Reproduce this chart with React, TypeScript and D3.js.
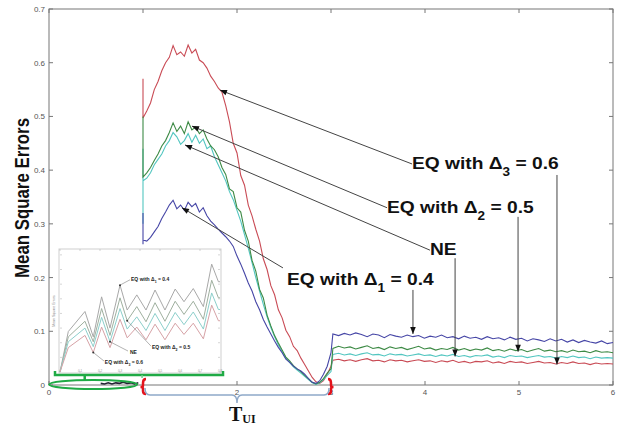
import React from 'react';
import * as d3 from 'd3';

const W = 621;
const H = 428;

// axis ticks
const xTicks = [0, 1, 2, 3, 4, 5, 6];
const xTickLabels = ['0', '', '2', '3', '4', '5', '6'];
const yTicks = [0, 0.1, 0.2, 0.3, 0.4, 0.5, 0.6, 0.7];
const yTickLabels = ['0', '0.1', '0.2', '0.3', '0.4', '0.5', '0.6', '0.7'];

// sampling grids (x positions of the samples)
const humpX = d3.range(51).map((i) => 1 + i * 0.04);
const tailX = d3.range(50).map((i) => 3.02 + i * (2.98 / 49));

// initial vertical drops at t = 1
const redSpike: [number, number][] = [[1, 0.57], [1, 0.497]];
const greenSpike: [number, number][] = [[1, 0.5], [1, 0.387]];
const cyanSpike: [number, number][] = [[1, 0.44], [1, 0.3], [1, 0.38]];
const blueSpike: [number, number][] = [[1, 0.32], [1, 0.262]];

// EQ with Δ3 = 0.6
const redHump = [
  0.497, 0.51, 0.525, 0.55, 0.565, 0.585, 0.6, 0.61, 0.632, 0.615,
  0.62, 0.612, 0.633, 0.618, 0.625, 0.605, 0.6, 0.59, 0.575, 0.565,
  0.553, 0.545, 0.52, 0.49, 0.45, 0.432, 0.39, 0.372, 0.335, 0.315,
  0.29, 0.268, 0.235, 0.215, 0.185, 0.168, 0.14, 0.125, 0.102, 0.09,
  0.072, 0.064, 0.05, 0.038, 0.026, 0.014, 0.006, 0.003, 0.008, 0.02,
  0.035,
];
// EQ with Δ2 = 0.5
const greenHump = [
  0.387, 0.395, 0.405, 0.418, 0.43, 0.445, 0.455, 0.47, 0.488, 0.472,
  0.482, 0.468, 0.49, 0.475, 0.48, 0.468, 0.475, 0.458, 0.445, 0.438,
  0.425, 0.405, 0.392, 0.365, 0.36, 0.33, 0.322, 0.288, 0.268, 0.232,
  0.212, 0.178, 0.162, 0.13, 0.11, 0.092, 0.078, 0.065, 0.052, 0.045,
  0.036, 0.03, 0.025, 0.018, 0.012, 0.005, 0.002, 0.005, 0.012, 0.022,
  0.03,
];
// NE
const cyanHump = [
  0.38, 0.385, 0.395, 0.41, 0.42, 0.43, 0.445, 0.455, 0.47, 0.462,
  0.448, 0.455, 0.468, 0.452, 0.465, 0.45, 0.458, 0.44, 0.445, 0.425,
  0.41, 0.395, 0.38, 0.36, 0.345, 0.325, 0.305, 0.28, 0.255, 0.228,
  0.2, 0.175, 0.15, 0.127, 0.107, 0.09, 0.075, 0.062, 0.05, 0.042,
  0.034, 0.028, 0.022, 0.016, 0.01, 0.004, 0.001, 0.004, 0.01, 0.018,
  0.025,
];
// EQ with Δ1 = 0.4
const blueHump = [
  0.27, 0.268, 0.275, 0.285, 0.295, 0.31, 0.322, 0.335, 0.344, 0.328,
  0.335, 0.325, 0.34, 0.332, 0.338, 0.322, 0.33, 0.315, 0.305, 0.298,
  0.29, 0.283, 0.276, 0.268, 0.258, 0.24, 0.225, 0.208, 0.19, 0.175,
  0.155, 0.14, 0.122, 0.108, 0.095, 0.082, 0.07, 0.06, 0.048, 0.042,
  0.035, 0.03, 0.026, 0.02, 0.012, 0.005, 0.003, 0.008, 0.02, 0.035,
  0.06,
];

const blueTail = [
  0.095, 0.092, 0.096, 0.093, 0.097, 0.094, 0.09, 0.095, 0.093, 0.088,
  0.094, 0.091, 0.089, 0.093, 0.09, 0.092, 0.087, 0.091, 0.089, 0.093,
  0.088, 0.09, 0.086, 0.091, 0.087, 0.089, 0.085, 0.09, 0.086, 0.088,
  0.084, 0.089, 0.085, 0.087, 0.082, 0.086, 0.084, 0.081, 0.086, 0.082,
  0.085, 0.08, 0.084, 0.079, 0.083, 0.08, 0.078, 0.082, 0.077, 0.079,
];
const greenTail = [
  0.068, 0.072, 0.069, 0.071, 0.067, 0.07, 0.073, 0.068, 0.07, 0.066,
  0.071, 0.068, 0.07, 0.066, 0.069, 0.072, 0.067, 0.069, 0.065, 0.068,
  0.066, 0.07, 0.065, 0.068, 0.064, 0.067, 0.065, 0.069, 0.064, 0.066,
  0.063, 0.067, 0.064, 0.066, 0.062, 0.065, 0.068, 0.063, 0.065, 0.062,
  0.064, 0.061, 0.065, 0.062, 0.063, 0.06, 0.064, 0.061, 0.062, 0.06,
];
const cyanTail = [
  0.057, 0.059, 0.056, 0.058, 0.055, 0.058, 0.06, 0.056, 0.057, 0.054,
  0.058, 0.056, 0.057, 0.054, 0.056, 0.058, 0.055, 0.056, 0.053, 0.056,
  0.054, 0.057, 0.053, 0.055, 0.052, 0.055, 0.054, 0.056, 0.052, 0.054,
  0.051, 0.055, 0.053, 0.054, 0.051, 0.053, 0.055, 0.052, 0.053, 0.05,
  0.053, 0.051, 0.054, 0.051, 0.052, 0.049, 0.052, 0.05, 0.051, 0.05,
];
const redTail = [
  0.046, 0.048, 0.045, 0.047, 0.044, 0.047, 0.049, 0.045, 0.046, 0.043,
  0.047, 0.045, 0.046, 0.043, 0.045, 0.047, 0.044, 0.045, 0.042, 0.045,
  0.043, 0.046, 0.042, 0.044, 0.041, 0.044, 0.043, 0.045, 0.041, 0.043,
  0.04, 0.044, 0.042, 0.043, 0.04, 0.042, 0.044, 0.041, 0.042, 0.039,
  0.042, 0.04, 0.043, 0.04, 0.041, 0.038, 0.041, 0.039, 0.04, 0.039,
];

// tiny values before t = 1 (inside the green ellipse)
const earlyX = [0.55, 0.59, 0.63, 0.67, 0.71, 0.75, 0.79, 0.83, 0.87, 0.91, 0.95];
const earlyVals = [0.003, 0.002, 0.004, 0.002, 0.004, 0.003, 0.005, 0.003, 0.004, 0.002, 0.004];

// inset (zoom of the interval inside the ellipse)
const insetU = [0, 0.052, 0.156, 0.208, 0.26, 0.3125, 0.375, 0.42, 0.48, 0.5375, 0.594, 0.656, 0.72, 0.775, 0.833, 0.896, 0.948, 0.99, 1.0];
const insetD1 = [0, 0.083, 0.124, 0.072, 0.154, 0.09, 0.178, 0.127, 0.158, 0.127, 0.168, 0.127, 0.17, 0.144, 0.171, 0.134, 0.221, 0.185, 0.185];
const insetD2 = [0, 0.072, 0.104, 0.062, 0.13, 0.075, 0.152, 0.105, 0.134, 0.103, 0.142, 0.104, 0.145, 0.118, 0.145, 0.108, 0.188, 0.152, 0.152];
const insetNE = [0, 0.062, 0.09, 0.052, 0.112, 0.062, 0.13, 0.088, 0.113, 0.085, 0.12, 0.085, 0.122, 0.097, 0.123, 0.088, 0.162, 0.128, 0.128];
const insetD3 = [0, 0.05, 0.075, 0.04, 0.092, 0.05, 0.108, 0.07, 0.092, 0.066, 0.098, 0.066, 0.1, 0.077, 0.1, 0.068, 0.137, 0.105, 0.105];
const insetXTicks = [0, 0.125, 0.25, 0.375, 0.5, 0.625, 0.75, 0.875, 1];
const insetXLabels = ['0', '0.1', '0.2', '0.3', '0.4', '0.5', '0.6', '0.7', '0.8'];
const insetYTicks = [0.03, 0.06, 0.09, 0.12, 0.15, 0.18, 0.21, 0.24];

const RED = '#c94b55';
const GREEN = '#3d8a45';
const CYAN = '#52c6c0';
const BLUE = '#4646a6';

type P = [number, number];

const build = (spike: P[], hump: number[], tail: number[]): P[] => [
  ...spike,
  ...humpX.map((t, i) => [t, hump[i]] as P),
  ...tailX.map((t, i) => [t, tail[i]] as P),
];

const series = [
  { name: 'EQ Δ3=0.6', color: RED, pts: build(redSpike, redHump, redTail) },
  { name: 'NE', color: CYAN, pts: build(cyanSpike, cyanHump, cyanTail) },
  { name: 'EQ Δ2=0.5', color: GREEN, pts: build(greenSpike, greenHump, greenTail) },
  { name: 'EQ Δ1=0.4', color: BLUE, pts: build(blueSpike, blueHump, blueTail) },
];

const annotations = [
  { pre: 'EQ with Δ', sub: '3', post: ' = 0.6', text: [3.862, 0.402], from: [3.862, 0.4115], tip: [1.819, 0.549], vx: 5.404, vFrom: 0.391, vTip: 0.038 },
  { pre: 'EQ with Δ', sub: '2', post: ' = 0.5', text: [3.596, 0.32], from: [3.596, 0.33], tip: [1.521, 0.482], vx: 4.99, vFrom: 0.313, vTip: 0.062 },
  { pre: 'NE', sub: '', post: '', text: [4.053, 0.242], from: [4.053, 0.251], tip: [1.447, 0.447], vx: 4.32, vFrom: 0.236, vTip: 0.053 },
  { pre: 'EQ with Δ', sub: '1', post: ' = 0.4', text: [2.532, 0.186], from: [2.489, 0.218], tip: [1.415, 0.33], vx: 3.872, vFrom: 0.177, vTip: 0.095 },
];

const insetAnn = [
  { pre: 'EQ with Δ', sub: '1', post: ' = 0.4', dot: [0.375, 0.178], end: [0.4375, 0.189], text: [0.444, 0.186] },
  { pre: 'EQ with Δ', sub: '2', post: ' = 0.5', dot: [0.42, 0.105], end: [0.569, 0.053], text: [0.575, 0.047] },
  { pre: 'NE', sub: '', post: '', dot: [0.3125, 0.062], end: [0.425, 0.043], text: [0.4375, 0.037] },
  { pre: 'EQ with Δ', sub: '3', post: ' = 0.6', dot: [0.208, 0.04], end: [0.275, 0.0225], text: [0.28, 0.016] },
];

export default function App() {
  const x = d3.scaleLinear().domain([0, 6]).range([49, 613]);
  const y = d3.scaleLinear().domain([0, 0.7]).range([385, 9]);
  const line = d3.line<P>().x((d) => x(d[0])).y((d) => y(d[1]));

  const ix = d3.scaleLinear().domain([0, 1]).range([60, 220]);
  const iy = d3.scaleLinear().domain([0, 0.25]).range([372, 250]);
  const iline = d3.line<P>().x((d) => ix(d[0])).y((d) => iy(d[1]));

  const [x0, x1] = x.range();
  const [y0, y1] = y.range();
  const font = 'Liberation Sans, Arial, sans-serif';
  const early: P[] = earlyX.map((t, i) => [t, earlyVals[i]]);

  const insetLines = [
    { vals: insetD1, color: '#a8a8a8' },
    { vals: insetD2, color: '#9fb09f' },
    { vals: insetNE, color: '#8ccfcb' },
    { vals: insetD3, color: '#d6a2a6' },
  ];

  const bx1 = x(1), bx3 = x(3), bxm = x(2);
  const green = '#1faa45';

  return (
    <svg width={W} height={H} style={{ position: 'absolute', left: 0, top: 0, background: '#fff' }}>
      <defs>
        <marker id="ah" viewBox="0 0 10 10" refX="10" refY="5" markerWidth="8" markerHeight="7" markerUnits="userSpaceOnUse" orient="auto">
          <path d="M0,1 L10,5 L0,9 z" fill="#111" />
        </marker>
      </defs>
      <rect x={0} y={0} width={W} height={H} fill="#fff" />

      {/* frame */}
      <rect x={x0} y={y1} width={x1 - x0} height={y0 - y1} fill="none" stroke="#777" strokeWidth={1} />
      {xTicks.map((t, i) => (
        <g key={'xt' + i}>
          <line x1={x(t)} x2={x(t)} y1={y0} y2={y0 - 4} stroke="#777" />
          <line x1={x(t)} x2={x(t)} y1={y1} y2={y1 + 4} stroke="#777" />
          {xTickLabels[i] && (
            <text x={x(t)} y={y0 + 9.5} fontSize={8} fill="#555" textAnchor="middle" fontFamily={font}>{xTickLabels[i]}</text>
          )}
        </g>
      ))}
      {yTicks.map((t, i) => (
        <g key={'yt' + i}>
          <line x1={x0} x2={x0 + 4} y1={y(t)} y2={y(t)} stroke="#777" />
          <line x1={x1} x2={x1 - 4} y1={y(t)} y2={y(t)} stroke="#777" />
          <text x={x0 - 4} y={y(t) + 3} fontSize={8} fill="#555" textAnchor="end" fontFamily={font}>{yTickLabels[i]}</text>
        </g>
      ))}

      {/* y title */}
      <text transform={`translate(29,${(y0 + y1) / 2 + 1}) rotate(-90)`} textAnchor="middle" fontSize={21} fontWeight="bold" fontFamily={font} fill="#111" textLength={160} lengthAdjust="spacingAndGlyphs">Mean Square Errors</text>

      {/* series */}
      {series.map((s) => (
        <path key={s.name} d={line(s.pts) || ''} fill="none" stroke={s.color} strokeWidth={1.1} />
      ))}
      <path d={line(early) || ''} fill="none" stroke="#223" strokeWidth={1.6} />

      {/* annotations */}
      {annotations.map((a, i) => (
        <g key={'an' + i}>
          <line x1={x(a.from[0])} y1={y(a.from[1])} x2={x(a.tip[0])} y2={y(a.tip[1])} stroke="#444" strokeWidth={1} markerEnd="url(#ah)" />
          <line x1={x(a.vx)} y1={y(a.vFrom)} x2={x(a.vx)} y2={y(a.vTip)} stroke="#444" strokeWidth={1} markerEnd="url(#ah)" />
          <g transform={`translate(${x(a.text[0])},${y(a.text[1])}) scale(1.13,1)`}>
            <text x={0} y={0} fontSize={17} fontWeight="bold" fontFamily={font} fill="#111">
              {a.pre}
              {a.sub && <tspan fontSize={12} dy={7}>{a.sub}</tspan>}
              {a.post && <tspan dy={a.sub ? -7 : 0}>{a.post}</tspan>}
            </text>
          </g>
        </g>
      ))}

      {/* inset */}
      <rect x={ix(0) - 1} y={iy(0.25) - 1} width={ix(1) - ix(0) + 2} height={iy(0) - iy(0.25) + 2} fill="#fff" stroke="#cfcfcf" strokeWidth={1} />
      {insetXTicks.map((t, i) => (
        <g key={'ixt' + i}>
          <line x1={ix(t)} x2={ix(t)} y1={iy(0) + 1} y2={iy(0) - 1} stroke="#bbb" strokeWidth={0.6} />
          <line x1={ix(t)} x2={ix(t)} y1={iy(0.25) - 1} y2={iy(0.25) + 1} stroke="#bbb" strokeWidth={0.6} />
          <text x={ix(t)} y={iy(0) - 0.5} fontSize={3} fill="#999" textAnchor="middle" fontFamily={font}>{insetXLabels[i]}</text>
        </g>
      ))}
      {insetYTicks.map((t, i) => (
        <g key={'iyt' + i}>
          <line x1={ix(0)} x2={ix(0) + 2} y1={iy(t)} y2={iy(t)} stroke="#bbb" strokeWidth={0.6} />
          <line x1={ix(1)} x2={ix(1) - 2} y1={iy(t)} y2={iy(t)} stroke="#bbb" strokeWidth={0.6} />
        </g>
      ))}
      <text transform={`translate(${ix(0) - 5},${iy(0.125)}) rotate(-90)`} fontSize={3.5} fill="#888" textAnchor="middle" fontFamily={font}>Mean Square Errors</text>
      {insetLines.map((l, i) => (
        <path key={'il' + i} d={iline(insetU.map((u, j) => [u, l.vals[j]] as P)) || ''} fill="none" stroke={l.color} strokeWidth={1} />
      ))}
      {insetAnn.map((a, i) => (
        <g key={'ia' + i}>
          <line x1={ix(a.dot[0])} y1={iy(a.dot[1])} x2={ix(a.end[0])} y2={iy(a.end[1])} stroke="#666" strokeWidth={0.5} />
          <circle cx={ix(a.dot[0])} cy={iy(a.dot[1])} r={1} fill="#333" />
          <text x={ix(a.text[0])} y={iy(a.text[1])} fontSize={5} fontWeight="bold" fontFamily={font} fill="#222">
            {a.pre}
            {a.sub && <tspan fontSize={3.5} dy={1.5}>{a.sub}</tspan>}
            {a.post && <tspan dy={a.sub ? -1.5 : 0}>{a.post}</tspan>}
          </text>
        </g>
      ))}

      {/* green bracket + ellipse */}
      <path d={`M${ix(0) - 5},${iy(0) - 1} L${ix(0) - 5},${iy(0) + 3} L${ix(1) + 3},${iy(0) + 3} L${ix(1) + 3},${iy(0) - 1}`} fill="none" stroke={green} strokeWidth={2.5} />
      <line x1={x(0.38)} x2={x(0.38)} y1={iy(0) + 3} y2={iy(0) + 8} stroke={green} strokeWidth={2.5} />
      <line x1={x(0.99)} x2={x(0.99)} y1={iy(0) + 3} y2={iy(0) + 6} stroke="#6fd08a" strokeWidth={1.5} />
      <ellipse cx={x(0.47)} cy={y(0) - 0.5} rx={44} ry={4.5} fill="none" stroke={green} strokeWidth={2} />

      {/* red brackets */}
      <path d={`M${bx1 + 3},${y0 - 6} Q${bx1},${y0 - 6} ${bx1},${y0 - 2} L${bx1},${y0 + 0.5} Q${bx1},${y0 + 2} ${bx1 - 2.5},${y0 + 2} Q${bx1},${y0 + 2} ${bx1},${y0 + 3.5} L${bx1},${y0 + 6} Q${bx1},${y0 + 9} ${bx1 + 3},${y0 + 9}`} fill="none" stroke="#e3131c" strokeWidth={2.5} />
      <path d={`M${bx3 - 3},${y0 - 6} Q${bx3},${y0 - 6} ${bx3},${y0 - 2} L${bx3},${y0 + 0.5} Q${bx3},${y0 + 2} ${bx3 + 2.5},${y0 + 2} Q${bx3},${y0 + 2} ${bx3},${y0 + 3.5} L${bx3},${y0 + 6} Q${bx3},${y0 + 9} ${bx3 - 3},${y0 + 9}`} fill="none" stroke="#e3131c" strokeWidth={2.5} />

      {/* blue brace */}
      <path d={`M${bx1 + 2},${y0 + 3} Q${bx1 + 2},${y0 + 10} ${bx1 + 7},${y0 + 10} L${bxm - 5},${y0 + 10} Q${bxm},${y0 + 10} ${bxm},${y0 + 18} Q${bxm},${y0 + 10} ${bxm + 5},${y0 + 10} L${bx3 - 7},${y0 + 10} Q${bx3 - 2},${y0 + 10} ${bx3 - 2},${y0 + 3}`} fill="none" stroke="#8fa9c9" strokeWidth={1.5} />
      <text x={bxm - 8} y={y0 + 36} fontFamily="Liberation Serif, Times New Roman, serif" fontWeight="bold" fill="#111">
        <tspan fontSize={20}>T</tspan>
        <tspan fontSize={12} dy={2}>UI</tspan>
      </text>
    </svg>
  );
}
